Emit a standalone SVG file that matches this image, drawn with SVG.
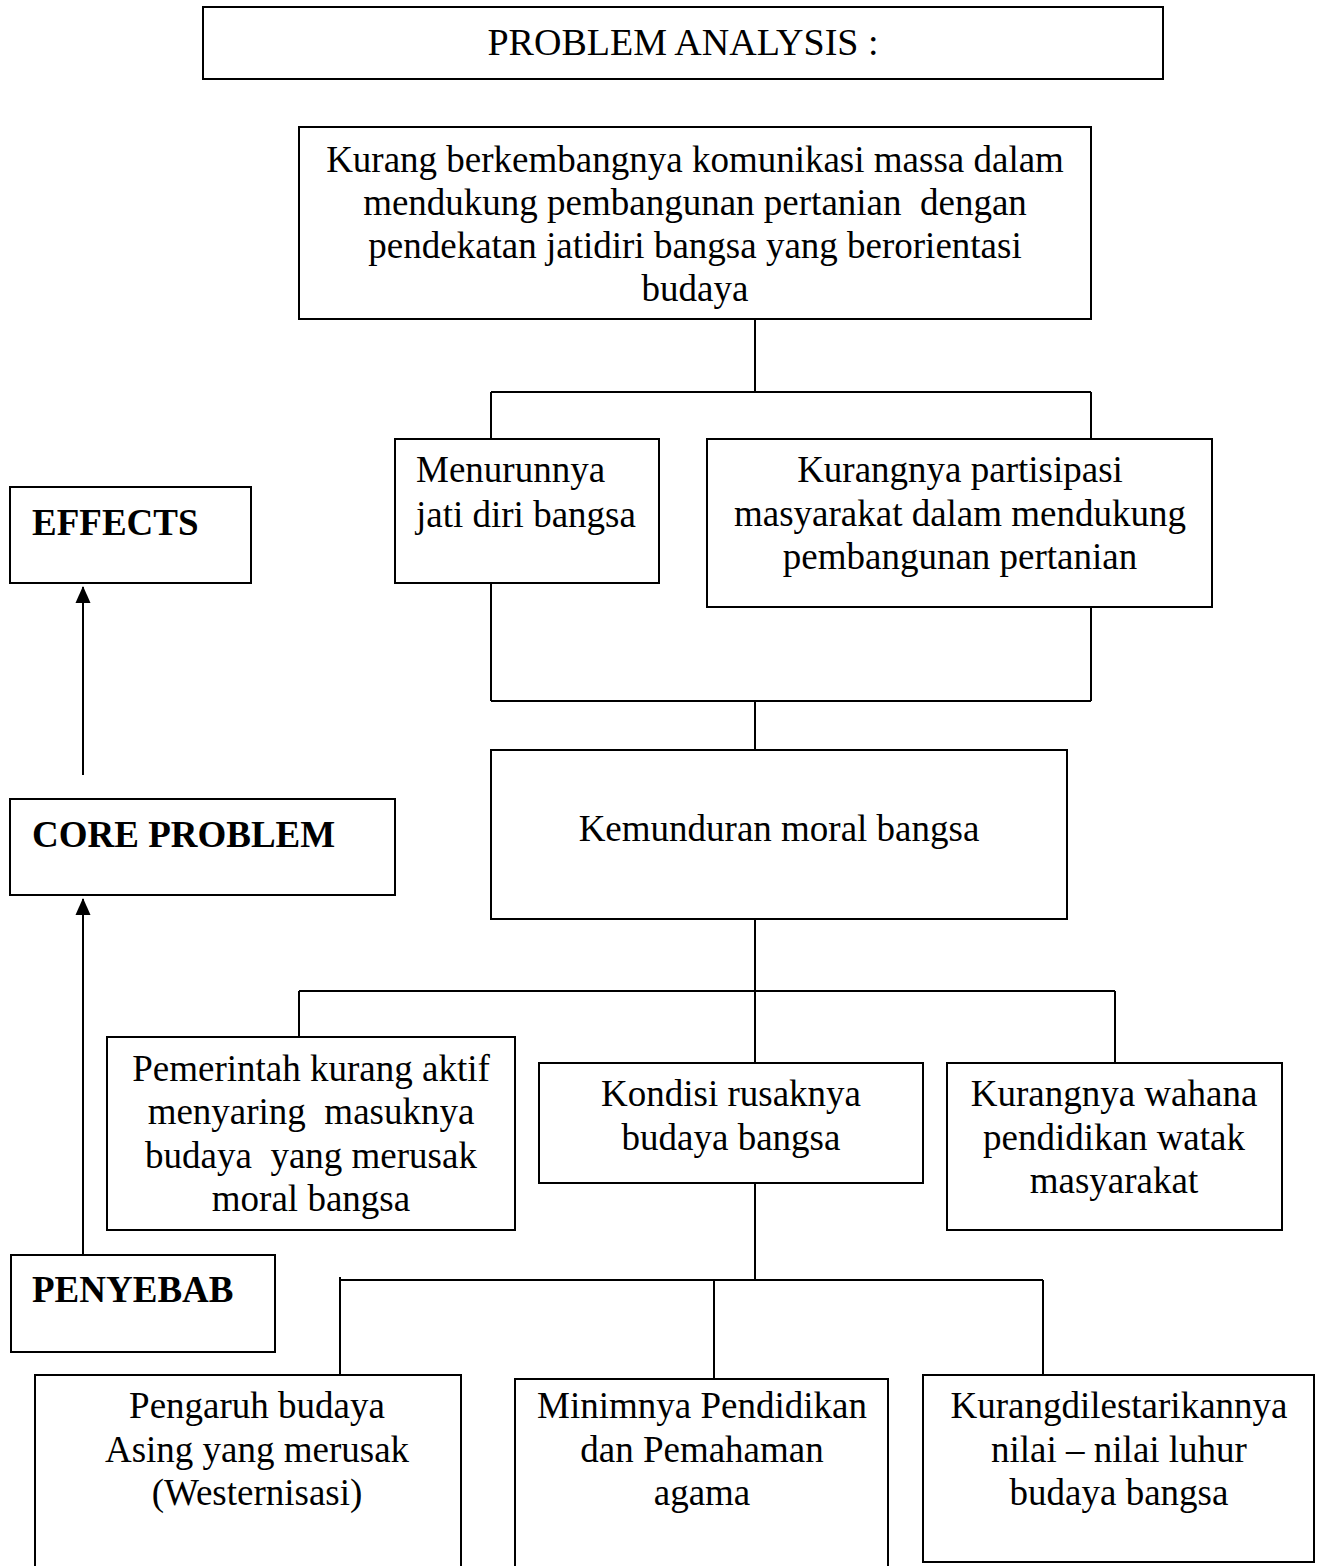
<svg xmlns="http://www.w3.org/2000/svg" width="1321" height="1566" viewBox="0 0 1321 1566">
<style>
.box{fill:#fff;stroke:#000;stroke-width:2}
.t{font-family:"Liberation Serif","Times New Roman",serif;font-size:37px;fill:#000}
.c{text-anchor:middle}
.b{font-weight:bold}
.ln{stroke:#000;stroke-width:2;fill:none}
</style>
<defs>
<marker id="ah" markerUnits="userSpaceOnUse" markerWidth="17" markerHeight="16" refX="16" refY="8" orient="auto" viewBox="0 0 17 16">
<path d="M0,0.5 L17,8 L0,15.5 Z" fill="#000"/>
</marker>
</defs>
<rect width="1321" height="1566" fill="#fff"/>
<g id="connectors">
<path class="ln" d="M755,319 V392 M491,392 H1091 M491,392 V439 M1091,392 V439"/>
<path class="ln" d="M491,583 V701 M1091,607 V701 M491,701 H1091 M755,701 V750"/>
<path class="ln" d="M755,919 V1063 M299,991 H1115 M299,991 V1037 M1115,991 V1063"/>
<path class="ln" d="M755,1183 V1280 M340,1280 H1043 M340,1277 V1375 M714,1280 V1379 M1043,1280 V1375"/>
<line class="ln" x1="83" y1="775" x2="83" y2="587" marker-end="url(#ah)"/>
<line class="ln" x1="83" y1="1255" x2="83" y2="899" marker-end="url(#ah)"/>
</g>
<g id="title">
<rect class="box" x="203" y="7" width="960" height="72"/>
<text class="t c" x="683" y="55" style="font-size:38px">PROBLEM ANALYSIS :</text>
</g>
<g id="effects">
<rect class="box" x="10" y="487" width="241" height="96"/>
<text class="t b" x="32" y="535">EFFECTS</text>
</g>
<g id="core-problem">
<rect class="box" x="10" y="799" width="385" height="96"/>
<text class="t b" x="32" y="847">CORE PROBLEM</text>
</g>
<g id="penyebab">
<rect class="box" x="11" y="1255" width="264" height="97"/>
<text class="t b" x="32" y="1302">PENYEBAB</text>
</g>
<g id="top-problem">
<rect class="box" x="299" y="127" width="792" height="192"/>
<text class="t c" x="695" y="172">Kurang berkembangnya komunikasi massa dalam</text>
<text class="t c" x="695" y="215" xml:space="preserve">mendukung pembangunan pertanian  dengan</text>
<text class="t c" x="695" y="258">pendekatan jatidiri bangsa yang berorientasi</text>
<text class="t c" x="695" y="301">budaya</text>
</g>
<g id="menurunnya">
<rect class="box" x="395" y="439" width="264" height="144"/>
<text class="t" x="416" y="482">Menurunnya</text>
<text class="t" x="416" y="527">jati diri bangsa</text>
</g>
<g id="kurangnya-partisipasi">
<rect class="box" x="707" y="439" width="505" height="168"/>
<text class="t c" x="960" y="482">Kurangnya partisipasi</text>
<text class="t c" x="960" y="526">masyarakat dalam mendukung</text>
<text class="t c" x="960" y="569">pembangunan pertanian</text>
</g>
<g id="kemunduran">
<rect class="box" x="491" y="750" width="576" height="169"/>
<text class="t c" x="779" y="841">Kemunduran moral bangsa</text>
</g>
<g id="pemerintah">
<rect class="box" x="107" y="1037" width="408" height="193"/>
<text class="t c" x="311" y="1081">Pemerintah kurang aktif</text>
<text class="t c" x="311" y="1124" xml:space="preserve">menyaring  masuknya</text>
<text class="t c" x="311" y="1168" xml:space="preserve">budaya  yang merusak</text>
<text class="t c" x="311" y="1211">moral bangsa</text>
</g>
<g id="kondisi">
<rect class="box" x="539" y="1063" width="384" height="120"/>
<text class="t c" x="731" y="1106">Kondisi rusaknya</text>
<text class="t c" x="731" y="1150">budaya bangsa</text>
</g>
<g id="kurangnya-wahana">
<rect class="box" x="947" y="1063" width="335" height="167"/>
<text class="t c" x="1114" y="1106">Kurangnya wahana</text>
<text class="t c" x="1114" y="1150">pendidikan watak</text>
<text class="t c" x="1114" y="1193">masyarakat</text>
</g>
<g id="pengaruh">
<rect class="box" x="35" y="1375" width="426" height="200"/>
<text class="t c" x="257" y="1418">Pengaruh budaya</text>
<text class="t c" x="257" y="1462">Asing yang merusak</text>
<text class="t c" x="257" y="1505">(Westernisasi)</text>
</g>
<g id="minimnya">
<rect class="box" x="515" y="1379" width="373" height="200"/>
<text class="t c" x="702" y="1418">Minimnya Pendidikan</text>
<text class="t c" x="702" y="1462">dan Pemahaman</text>
<text class="t c" x="702" y="1505">agama</text>
</g>
<g id="kurangdilestarikannya">
<rect class="box" x="923" y="1375" width="391" height="187"/>
<text class="t c" x="1119" y="1418">Kurangdilestarikannya</text>
<text class="t c" x="1119" y="1462">nilai – nilai luhur</text>
<text class="t c" x="1119" y="1505">budaya bangsa</text>
</g>
</svg>
